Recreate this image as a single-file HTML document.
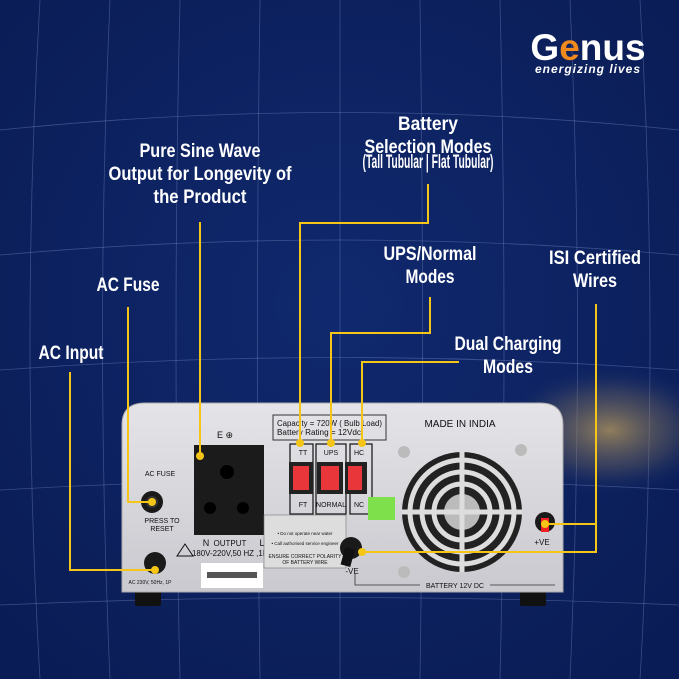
<!DOCTYPE html>
<html><head><meta charset="utf-8"><style>
html,body{margin:0;padding:0;width:679px;height:679px;overflow:hidden;background:#0b1f5c}
svg{display:block}
.t{font-family:"Liberation Sans",sans-serif;font-weight:bold;fill:#fff;text-anchor:middle;font-size:19px}
.s{font-family:"Liberation Sans",sans-serif;fill:#111;text-anchor:middle}
</style></head><body>
<svg width="679" height="679" viewBox="0 0 679 679" xmlns="http://www.w3.org/2000/svg">
<defs>
<radialGradient id="bg" cx="50%" cy="45%" r="70%">
<stop offset="0" stop-color="#10296e"/><stop offset="1" stop-color="#0a1c55"/></radialGradient>
<radialGradient id="glow" cx="50%" cy="50%" r="50%">
<stop offset="0" stop-color="#c9a55a" stop-opacity=".7"/><stop offset=".6" stop-color="#8a7a60" stop-opacity=".3"/><stop offset="1" stop-color="#1a3070" stop-opacity="0"/></radialGradient>
<linearGradient id="dev" x1="0" y1="0" x2="0" y2="1"><stop offset="0" stop-color="#e4e4e8"/><stop offset="1" stop-color="#c9c9cf"/></linearGradient>
</defs>
<rect width="679" height="679" fill="url(#bg)"/>
<g stroke="#8fa3d8" stroke-opacity=".35" stroke-width="0.8" fill="none">
<path d="M0 130 Q340 95 679 130"/><path d="M0 255 Q340 225 679 255"/><path d="M0 370 Q340 345 679 370"/><path d="M0 490 Q340 470 679 490"/><path d="M0 605 Q340 590 679 605"/>
<path d="M40 0 Q20 340 40 679"/><path d="M110 0 Q95 340 110 679"/><path d="M180 0 Q172 340 180 679"/><path d="M260 0 Q255 340 260 679"/><path d="M340 0 L340 679"/><path d="M420 0 Q425 340 420 679"/><path d="M500 0 Q508 340 500 679"/><path d="M570 0 Q585 340 570 679"/><path d="M640 0 Q660 340 640 679"/>
</g>
<ellipse cx="610" cy="430" rx="110" ry="65" fill="url(#glow)"/>
<!-- logo -->
<text x="588" y="60" font-family="Liberation Sans,sans-serif" font-weight="bold" font-size="37" fill="#fff" text-anchor="middle">G<tspan fill="#f08a1c">e</tspan>nus</text>
<text x="588" y="73" font-family="Liberation Sans,sans-serif" font-weight="bold" font-style="italic" font-size="12" fill="#fff" text-anchor="middle" letter-spacing="1">energizing lives</text>
<!-- labels -->
<g class="t">
<text class="t" x="428" y="130" textLength="60" lengthAdjust="spacingAndGlyphs">Battery</text>
<text class="t" x="428" y="153" textLength="127" lengthAdjust="spacingAndGlyphs">Selection Modes</text>
<text class="t" x="428" y="168" font-size="12" font-weight="normal" textLength="131" lengthAdjust="spacingAndGlyphs">(Tall Tubular | Flat Tubular)</text>
<text class="t" x="200" y="157" textLength="121" lengthAdjust="spacingAndGlyphs">Pure Sine Wave</text>
<text class="t" x="200" y="180" textLength="183" lengthAdjust="spacingAndGlyphs">Output for Longevity of</text>
<text class="t" x="200" y="203" textLength="93" lengthAdjust="spacingAndGlyphs">the Product</text>
<text class="t" x="128" y="291" textLength="63" lengthAdjust="spacingAndGlyphs">AC Fuse</text>
<text class="t" x="71" y="359" textLength="65" lengthAdjust="spacingAndGlyphs">AC Input</text>
<text class="t" x="430" y="260" textLength="93" lengthAdjust="spacingAndGlyphs">UPS/Normal</text>
<text class="t" x="430" y="283" textLength="49" lengthAdjust="spacingAndGlyphs">Modes</text>
<text class="t" x="508" y="350" textLength="107" lengthAdjust="spacingAndGlyphs">Dual Charging</text>
<text class="t" x="508" y="373" textLength="50" lengthAdjust="spacingAndGlyphs">Modes</text>
<text class="t" x="595" y="264" textLength="92" lengthAdjust="spacingAndGlyphs">ISI Certified</text>
<text class="t" x="595" y="287" textLength="44" lengthAdjust="spacingAndGlyphs">Wires</text>
</g>
<!-- device -->
<rect x="135" y="590" width="26" height="16" rx="2" fill="#111"/>
<rect x="520" y="590" width="26" height="16" rx="2" fill="#111"/>
<path d="M122 425 Q122 403 145 403 L540 403 Q563 403 563 425 L563 592 L122 592 Z" fill="url(#dev)" stroke="#aaa"/>
<text class="s" x="160" y="476" font-size="7">AC FUSE</text>
<circle cx="152" cy="502" r="11" fill="#1a1a1a"/><circle cx="152" cy="502" r="6" fill="#333"/>
<text class="s" x="162" y="523" font-size="7">PRESS TO</text><text class="s" x="162" y="531" font-size="7">RESET</text>
<circle cx="155" cy="563" r="11" fill="#1a1a1a"/>
<text class="s" x="150" y="584" font-size="5">AC 230V, 50Hz, 1P</text>
<path d="M185 544 L177 556 L193 556 Z" fill="none" stroke="#111"/>
<text class="s" x="225" y="438" font-size="9">E ⊕</text>
<rect x="194" y="445" width="70" height="90" fill="#1b1b1b"/>
<circle cx="227" cy="472" r="7" fill="#000"/><circle cx="210" cy="508" r="6" fill="#000"/><circle cx="243" cy="508" r="6" fill="#000"/>
<text class="s" x="206" y="546" font-size="9">N</text><text class="s" x="230" y="546" font-size="8">OUTPUT</text><text class="s" x="262" y="546" font-size="9">L</text>
<text class="s" x="230" y="556" font-size="8" textLength="76" lengthAdjust="spacingAndGlyphs">180V-220V,50 HZ ,1P</text>
<rect x="201" y="563" width="62" height="25" fill="#fff"/>
<rect x="207" y="572" width="50" height="6" fill="#555"/>
<rect x="273" y="415" width="113" height="25" fill="none" stroke="#333"/>
<text x="277" y="426" font-family="Liberation Sans,sans-serif" font-size="8" fill="#111" textLength="105" lengthAdjust="spacingAndGlyphs">Capacity = 720W ( Bulb Load)</text>
<text x="277" y="435" font-family="Liberation Sans,sans-serif" font-size="8" fill="#111" textLength="84" lengthAdjust="spacingAndGlyphs">Battery Rating = 12Vdc</text>
<g stroke="#111" stroke-width="1.2" fill="none"><rect x="290" y="444" width="23" height="70"/><rect x="316" y="444" width="30" height="70"/><rect x="350" y="444" width="22" height="70"/></g>
<text class="s" x="303" y="455" font-size="7">TT</text><text class="s" x="331" y="455" font-size="7">UPS</text><text class="s" x="359" y="455" font-size="7">HC</text>
<text class="s" x="303" y="507" font-size="7">FT</text><text class="s" x="331" y="507" font-size="7">NORMAL</text><text class="s" x="359" y="507" font-size="7">NC</text>
<rect x="289" y="462" width="24" height="32" fill="#222"/><rect x="293" y="466" width="16" height="24" fill="#e8363a"/>
<rect x="317" y="462" width="26" height="32" fill="#222"/><rect x="321" y="466" width="18" height="24" fill="#e8363a"/>
<rect x="345" y="462" width="22" height="32" fill="#222"/><rect x="348" y="466" width="14" height="24" fill="#e8363a"/>
<rect x="368" y="497" width="27" height="23" fill="#7ee04a"/>
<rect x="264" y="515" width="82" height="53" fill="#ddd" stroke="#777" stroke-width=".6"/>
<text class="s" x="305" y="535" font-size="4.5">• Do not operate near water</text>
<text class="s" x="305" y="545" font-size="4.5">• Call authorised service engineer</text>
<text class="s" x="305" y="558" font-size="5">ENSURE CORRECT POLARITY</text>
<text class="s" x="305" y="564" font-size="5">OF BATTERY WIRE</text>
<circle cx="351" cy="548" r="11" fill="#1a1a1a"/><rect x="343" y="548" width="10" height="18" fill="#111" transform="rotate(15 348 556)"/>
<text class="s" x="352" y="574" font-size="8">-VE</text>
<text class="s" x="460" y="427" font-size="10">MADE IN INDIA</text>
<circle cx="462" cy="512" r="60" fill="#222"/>
<g fill="none" stroke="#ddd" stroke-width="5"><circle cx="462" cy="512" r="52"/><circle cx="462" cy="512" r="40"/><circle cx="462" cy="512" r="28"/></g>
<circle cx="462" cy="512" r="18" fill="#bbb"/>
<g stroke="#ddd" stroke-width="5"><line x1="462" y1="452" x2="462" y2="572"/><line x1="402" y1="512" x2="522" y2="512"/></g>
<circle cx="404" cy="452" r="6" fill="#bbb"/><circle cx="521" cy="450" r="6" fill="#bbb"/><circle cx="404" cy="572" r="6" fill="#bbb"/>
<circle cx="545" cy="522" r="10" fill="#1a1a1a"/><rect x="541" y="518" width="8" height="14" fill="#e22"/>
<text class="s" x="542" y="545" font-size="8">+VE</text>
<text class="s" x="455" y="588" font-size="7">BATTERY 12V DC</text>
<path d="M355 574 V585 H420 M490 585 H555" stroke="#333" fill="none" stroke-width=".8"/>
<!-- connectors -->
<g stroke="#f5c518" stroke-width="2" fill="none">
<path d="M70 372 V570 H155"/>
<path d="M128 307 V502 H152"/>
<path d="M200 222 V456"/>
<path d="M428 184 V223 H300 V443"/>
<path d="M430 297 V333 H331 V443"/>
<path d="M459 362 H362 V443"/>
<path d="M596 304 V552 H362"/>
<path d="M596 524 H545"/>
</g>
<g fill="#f5c518">
<circle cx="155" cy="570" r="4"/><circle cx="152" cy="502" r="4"/><circle cx="200" cy="456" r="4"/>
<circle cx="300" cy="443" r="4"/><circle cx="331" cy="443" r="4"/><circle cx="362" cy="443" r="4"/>
<circle cx="362" cy="552" r="4"/><circle cx="545" cy="524" r="4"/>
</g>
</svg>
</body></html>
